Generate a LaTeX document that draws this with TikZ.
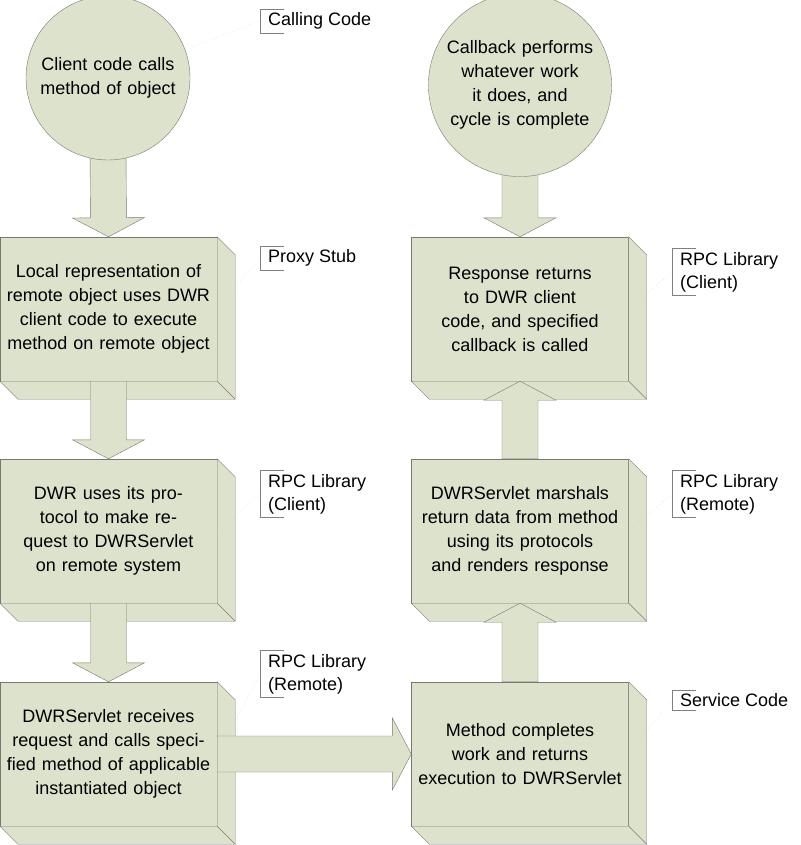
\documentclass[tikz,border=0pt]{standalone}
\usepackage{fontspec}
\setmainfont{Liberation Sans}
\usetikzlibrary{calc}
\definecolor{boxfill}{RGB}{221,226,204}
\definecolor{boxline}{RGB}{120,120,110}
\tikzset{
  step box/.style={
    draw=boxline, fill=boxfill,
    minimum width=217pt, minimum height=144pt,
    text width=205pt, align=center,
    font=\fontsize{18}{24}\selectfont,
  },
  step circle/.style={
    circle, draw=boxline, fill=boxfill,
    minimum size=164pt, text width=150pt, align=center,
    font=\fontsize{18}{24}\selectfont,
  },
  side face/.style={draw=boxline, fill=boxfill},
  flow arrow/.style={draw=boxline, fill=boxfill},
  tag/.style={
    anchor=west, align=left, inner xsep=8pt,
    font=\fontsize{18}{23}\selectfont,
  },
  leader/.style={draw=gray!40, dotted},
}
% side faces of a raised box
\newcommand\extrude[1]{%
  \filldraw[side face] (#1.south west) -- ++(18,18) -- ($(#1.south east)+(18,18)$)
    -- ($(#1.north east)+(18,18)$) -- (#1.north east) -- (#1.south east) -- cycle;
  \draw[boxline] (#1.south east) -- ++(18,18);}
% block arrow from #1 to tip #2
\newcommand\flowarrow[2]{%
  \coordinate (h) at ($(#2)!19pt!(#1)$);
  \filldraw[flow arrow] ($(#1)!18pt!90:(#2)$) -- ($(h)!18pt!-90:(#1)$)
    -- ($(h)!36pt!-90:(#1)$) -- (#2) -- ($(h)!36pt!90:(#1)$)
    -- ($(h)!18pt!90:(#1)$) -- ($(#1)!18pt!-90:(#2)$) -- cycle;}
% bracket in front of a tag
\newcommand\tagbracket[1]{%
  \draw[gray] ($(#1.north west)+(24,0)$) -- (#1.north west) -- (#1.south west) -- ++(24,0);}
\begin{document}
\begin{tikzpicture}[x=1pt,y=-1pt]
  \useasboundingbox (0,0) rectangle (800,845);

  % circles and the arrows below them
  \coordinate (c1s) at (108,140);
  \coordinate (c2s) at (520,150);
  \node [step box] (b1) at (108.5,309) {Local representation of remote object uses DWR client code to execute method on remote object};
  \node [step box] (r1) at (520,309) {Response returns to DWR client code, and specified callback is called};
  \flowarrow{c1s}{b1.north}
  \flowarrow{c2s}{r1.north}
  \node [step circle] (c1) at (108,78) {Client code calls method of object};
  \node [step circle] (c2) at (520,85) {Callback performs whatever work it does, and cycle is complete};

  % boxes
  \node [step box] (b2) at (108.5,531) {DWR uses its protocol to make request to DWRServlet on remote system};
  \node [step box] (b3) at (108.5,754) {DWRServlet receives request and calls specified method of applicable instantiated object};
  \node [step box] (r2) at (520,531) {DWRServlet marshals return data from method using its protocols and renders response};
  \node [step box] (r3) at (520,754) {Method completes work and returns execution to DWRServlet};
  \foreach \b in {b1,b2,b3,r1,r2,r3} {\extrude{\b}}

  % arrows between boxes
  \flowarrow{b1.south}{b2.north}
  \flowarrow{b2.south}{b3.north}
  \flowarrow{b3.east}{r3.west}
  \flowarrow{r3.north}{r2.south}
  \flowarrow{r2.north}{r1.south}

  % tags
  \node [tag] (t1) at (260,21) {Calling Code};
  \node [tag] (t2) at (260,258) {Proxy Stub};
  \node [tag] (t3) at (260,494) {RPC Library\\(Client)};
  \node [tag] (t4) at (260,674) {RPC Library\\(Remote)};
  \node [tag] (t5) at (672,272) {RPC Library\\(Client)};
  \node [tag] (t6) at (672,494) {RPC Library\\(Remote)};
  \node [tag] (t7) at (672,700) {Service Code};
  \foreach \t in {t1,t2,t3,t4,t5,t6,t7} {\tagbracket{\t}}

  \draw [leader] (c1.20) -- (t1.west);
  \draw [leader] (b1.east) -- (t2.west);
  \draw [leader] (b2.east) -- (t3.west);
  \draw [leader] ($(b3.east)+(10,-18)$) -- (t4.west);
  \draw [leader] (r1.east) -- (t5.west);
  \draw [leader] (r2.east) -- (t6.west);
  \draw [leader] (r3.east) -- (t7.west);
\end{tikzpicture}
\end{document}
